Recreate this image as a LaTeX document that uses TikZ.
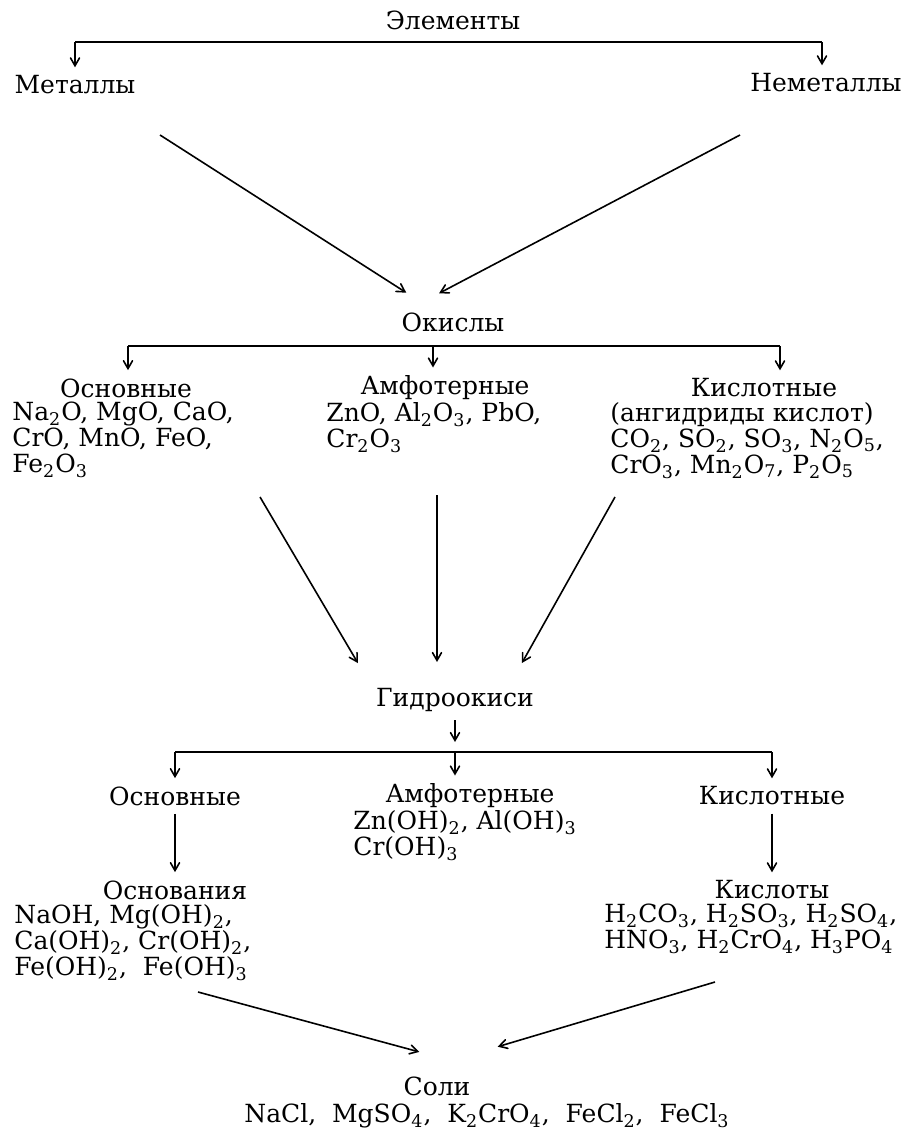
\documentclass[tikz,border=0pt]{standalone}
\usepackage{fontspec}
\setmainfont{DejaVu Serif}
\usetikzlibrary{arrows}
\newcommand{\sbs}[1]{\textsubscript{#1}}

\begin{document}
\begin{tikzpicture}[x=0.5pt, y=-0.5pt, >=angle 60, font=\fontsize{12.5}{13}\selectfont]
  \tikzstyle{head} = [inner sep=0pt]
  \tikzstyle{list} = [inner sep=0pt, align=left, anchor=north west]
  \tikzstyle{bar} = [line width=1.1pt]
  \tikzstyle{down} = [->, line width=0.8pt, shorten >=4pt]
  \tikzstyle{tmp} = [coordinate]
  \useasboundingbox (0,0) rectangle (902,1140);

  % elements
  \node [head] (elem) at (453,20) {Элементы};
  \node [tmp] (eb-l) at (75,42) {};
  \node [tmp] (eb-r) at (822,42) {};
  \node [head] (metal) at (75,85) {Металлы};
  \node [head] (nonmetal) at (826,83) {Неметаллы};
  \node [tmp] (metal-out) at (160,135) {};
  \node [tmp] (nonmetal-out) at (740,135) {};

  % oxides
  \node [head] (ox) at (453,322) {Окислы};
  \node [tmp] (ox-in-l) at (413,297) {};
  \node [tmp] (ox-in-r) at (432,297) {};
  \node [tmp] (ob-l) at (128,346) {};
  \node [tmp] (ob-m) at (433,346) {};
  \node [tmp] (ob-r) at (780,346) {};
  \node [head] (ox-bas) at (126,388) {Основные};
  \node [list] (ox-bas-l) at (12,402) {Na\sbs{2}O, MgO, CaO,\\CrO, MnO, FeO,\\Fe\sbs{2}O\sbs{3}};
  \node [head] (ox-amph) at (445,388) {Амфотерные};
  \node [list] (ox-amph-l) at (326,402) {ZnO, Al\sbs{2}O\sbs{3}, PbO,\\Cr\sbs{2}O\sbs{3}};
  \node [head] (ox-acid) at (764,388) {Кислотные};
  \node [list] (ox-acid-l) at (610,402) {(ангидриды кислот)\\CO\sbs{2}, SO\sbs{2}, SO\sbs{3}, N\sbs{2}O\sbs{5},\\CrO\sbs{3}, Mn\sbs{2}O\sbs{7}, P\sbs{2}O\sbs{5}};
  \node [tmp] (ox-bas-out) at (260,497) {};
  \node [tmp] (ox-amph-out) at (437,495) {};
  \node [tmp] (ox-acid-out) at (615,497) {};

  % hydroxides
  \node [head] (hyd) at (455,700) {Гидроокиси};
  \node [tmp] (hyd-in-l) at (362,670) {};
  \node [tmp] (hyd-in-m) at (437,670) {};
  \node [tmp] (hyd-in-r) at (518,670) {};
  \node [tmp] (hb-l) at (175,752) {};
  \node [tmp] (hb-m) at (455,752) {};
  \node [tmp] (hb-r) at (772,752) {};
  \node [head] (hyd-bas) at (175,796) {Основные};
  \node [head] (hyd-amph) at (470,796) {Амфотерные};
  \node [list] (hyd-amph-l) at (353,810) {Zn(OH)\sbs{2}, Al(OH)\sbs{3}\\Cr(OH)\sbs{3}};
  \node [head] (hyd-acid) at (772,796) {Кислотные};
  \node [head] (bases) at (175,890) {Основания};
  \node [list] (bases-l) at (14,904) {NaOH, Mg(OH)\sbs{2},\\Ca(OH)\sbs{2}, Cr(OH)\sbs{2},\\Fe(OH)\sbs{2}, \ Fe(OH)\sbs{3}};
  \node [head] (acids) at (772,890) {Кислоты};
  \node [list] (acids-l) at (604,904) {H\sbs{2}CO\sbs{3}, H\sbs{2}SO\sbs{3}, H\sbs{2}SO\sbs{4},\\HNO\sbs{3}, H\sbs{2}CrO\sbs{4}, H\sbs{3}PO\sbs{4}};
  \node [tmp] (bases-out) at (198,992) {};
  \node [tmp] (acids-out) at (715,982) {};

  % salts
  \node [tmp] (salt-in-l) at (427,1054) {};
  \node [tmp] (salt-in-r) at (490,1049) {};
  \node [head] (salt) at (437,1086) {Соли};
  \node [head] (salt-l) at (487,1116) {NaCl, \ MgSO\sbs{4}, \ K\sbs{2}CrO\sbs{4}, \ FeCl\sbs{2}, \ FeCl\sbs{3}};

  \draw [bar] (eb-l) -- (eb-r);
  \draw [down] (eb-l) -- (eb-l |- metal.north);
  \draw [down] (eb-r) -- (eb-r |- nonmetal.north);
  \draw [down] (metal-out) -- (ox-in-l);
  \draw [down] (nonmetal-out) -- (ox-in-r);

  \draw [bar] (ob-l) -- (ob-r);
  \draw [down] (ob-l) -- (ob-l |- ox-bas.north);
  \draw [down] (ob-m) -- (ob-m |- ox-amph.north);
  \draw [down] (ob-r) -- (ob-r |- ox-acid.north);
  \draw [down] (ox-bas-out) -- (hyd-in-l);
  \draw [down] (ox-amph-out) -- (hyd-in-m);
  \draw [down] (ox-acid-out) -- (hyd-in-r);

  \draw [down, shorten <=4pt, shorten >=5pt] (hyd) -- (hb-m);
  \draw [bar] (hb-l) -- (hb-r);
  \draw [down] (hb-l) -- (hb-l |- hyd-bas.north);
  \draw [down] (hb-m) -- (hb-m |- hyd-amph.north);
  \draw [down] (hb-r) -- (hb-r |- hyd-acid.north);
  \draw [down, shorten <=4pt] (hyd-bas) -- (bases);
  \draw [down, shorten <=4pt] (hyd-acid) -- (acids);

  \draw [down] (bases-out) -- (salt-in-l);
  \draw [down] (acids-out) -- (salt-in-r);
\end{tikzpicture}
\end{document}
